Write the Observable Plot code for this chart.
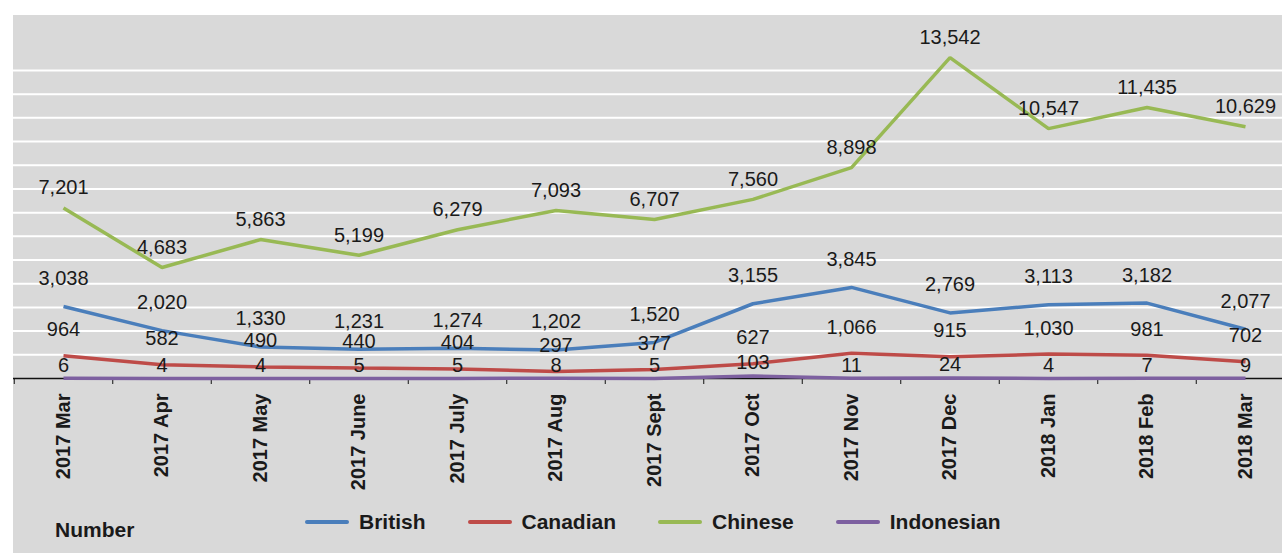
<!DOCTYPE html>
<html>
<head>
<meta charset="utf-8">
<script src="https://cdn.jsdelivr.net/npm/d3@7"></script>
<script src="https://cdn.jsdelivr.net/npm/@observablehq/plot@0.6"></script>
<style>
  html, body { margin: 0; padding: 0; background: #fff; overflow: hidden; width: 1282px; height: 553px;
    font-family: "Liberation Sans", Arial, sans-serif; }
  #panel { position: absolute; left: 13px; top: 15px; width: 1269px; height: 538px; background: #d9d9d9; }
  #chart { position: absolute; left: 0; top: 0; width: 1282px; }
  #chart svg g[aria-label="x-axis tick label"] text { font-weight: bold; }
  #legend { position: relative; height: 53px; color: #1a1a1a; font-weight: bold; font-size: 21px; }
  #legend .title { position: absolute; left: 55px; top: 18px; line-height: 24px; }
  #legend .items { position: absolute; left: 305px; top: 10px; display: flex; align-items: center; line-height: 24px; }
  #legend .item { display: flex; align-items: center; margin-right: 42px; }
  #legend .sw { display: inline-block; width: 44px; height: 4px; border-radius: 2px; margin-right: 10px; }
</style>
</head>
<body>
<div id="panel"></div>
<div id="chart"></div>
<script>
// ---- data ----
const months = ["2017 Mar", "2017 Apr", "2017 May", "2017 June", "2017 July", "2017 Aug", "2017 Sept",
                "2017 Oct", "2017 Nov", "2017 Dec", "2018 Jan", "2018 Feb", "2018 Mar"];
const british    = [3038, 2020, 1330, 1231, 1274, 1202, 1520, 3155, 3845, 2769, 3113, 3182, 2077];
const canadian   = [964, 582, 490, 440, 404, 297, 377, 627, 1066, 915, 1030, 981, 702];
const chinese    = [7201, 4683, 5863, 5199, 6279, 7093, 6707, 7560, 8898, 13542, 10547, 11435, 10629];
const indonesian = [6, 4, 4, 5, 5, 8, 5, 103, 11, 24, 4, 7, 9];
const seriesNames = ["Chinese", "British", "Canadian", "Indonesian"];
const seriesValues = [chinese, british, canadian, indonesian];
const legendOrder = ["British", "Canadian", "Chinese", "Indonesian"];
const seriesColors = {British: "#4a7ebb", Canadian: "#be4b48", Chinese: "#98b954", Indonesian: "#7d60a0"};
const labelDy = {British: -28, Canadian: -26, Chinese: -20, Indonesian: -13};
const gridValues = d3.range(1000, 14000, 1000);

// ---- build table ----
const rows = [];
seriesNames.forEach((name, s) => {
  seriesValues[s].forEach((v, i) => rows.push({series: name, i, month: months[i], value: v}));
});
const idx = d3.range(months.length);
const boundaries = d3.range(-0.5, months.length, 1);

const fmt = d3.format(",");

const plot = Plot.plot({
  width: 1282,
  height: 500,
  marginTop: 15,
  marginLeft: 13,
  marginRight: 0,
  marginBottom: 122,
  style: {background: "transparent", overflow: "visible", fontFamily: "'Liberation Sans', Arial, sans-serif"},
  x: {type: "linear", domain: [-0.5, 12.5], range: [13.75, 1294.25], axis: null},
  y: {domain: [0, 15000], range: [378, 22.6], axis: null},
  color: {domain: legendOrder, range: legendOrder.map(d => seriesColors[d])},
  marks: [
    Plot.ruleY(gridValues, {stroke: "white", strokeWidth: 2}),
    Plot.ruleY([0], {stroke: "#111", strokeWidth: 1.3}),
    Plot.axisX({ticks: boundaries, tickSize: 6, tickFormat: () => "", stroke: "#111", label: null}),
    Plot.axisX({ticks: idx, tickSize: 0, tickPadding: 15, tickRotate: -90, tickFormat: i => months[i],
                fontSize: 20, fontWeight: "bold", fill: "#1a1a1a", label: null}),
    Plot.line(rows, {x: "i", y: "value", z: "series", stroke: "series", strokeWidth: 3.5,
                     strokeLinejoin: "miter", strokeLinecap: "butt"}),
    ...seriesNames.map(name =>
      Plot.text(rows.filter(r => r.series === name), {
        x: "i", y: "value", text: d => fmt(d.value), dy: labelDy[name],
        fontSize: 20, fill: "#1a1a1a"
      })
    )
  ]
});

const chart = document.getElementById("chart");
chart.appendChild(plot);

// ---- legend ----
const legend = document.createElement("div");
legend.id = "legend";
const title = document.createElement("div");
title.className = "title";
title.textContent = "Number";
legend.appendChild(title);
const items = document.createElement("div");
items.className = "items";
legendOrder.forEach(name => {
  const it = document.createElement("div");
  it.className = "item";
  const sw = document.createElement("span");
  sw.className = "sw";
  sw.style.background = seriesColors[name];
  const lb = document.createElement("span");
  lb.textContent = name;
  it.appendChild(sw);
  it.appendChild(lb);
  items.appendChild(it);
});
legend.appendChild(items);
chart.appendChild(legend);
</script>
</body>
</html>
